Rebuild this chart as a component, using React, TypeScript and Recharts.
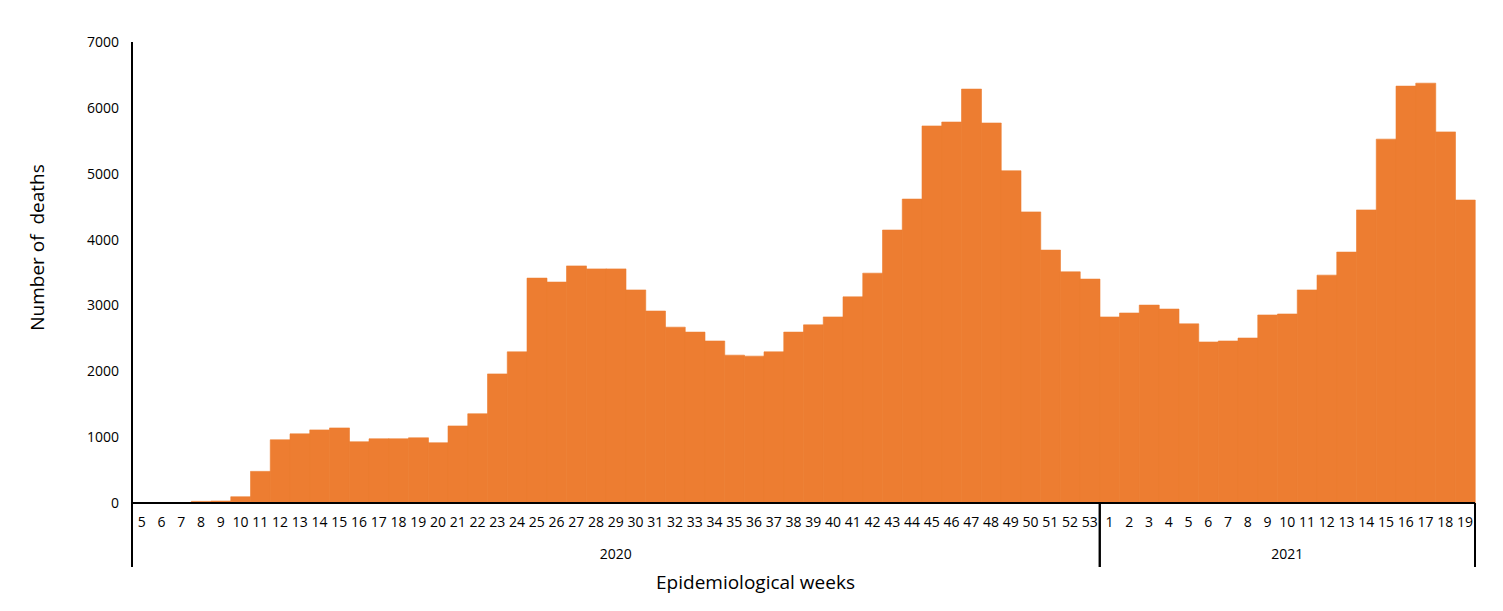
import { BarChart, Bar, XAxis, YAxis } from "recharts";

const weeks2020 = [
  5, 6, 7, 8, 9, 10, 11, 12, 13, 14, 15, 16, 17, 18, 19, 20, 21, 22, 23, 24, 25, 26, 27, 28, 29,
  30, 31, 32, 33, 34, 35, 36, 37, 38, 39, 40, 41, 42, 43, 44, 45, 46, 47, 48, 49, 50, 51, 52, 53,
];
const deaths2020 = [
  0, 0, 0, 25, 30, 95, 480, 960, 1050, 1110, 1140, 930, 975, 975, 990, 915, 1170, 1355, 1960, 2295,
  3415, 3355, 3600, 3555, 3555, 3235, 2915, 2670, 2595, 2460, 2245, 2230, 2295, 2595, 2705, 2825,
  3130, 3490, 4145, 4615, 5725, 5785, 6285, 5770, 5045, 4420, 3840, 3510, 3400,
];
const weeks2021 = [1, 2, 3, 4, 5, 6, 7, 8, 9, 10, 11, 12, 13, 14, 15, 16, 17, 18, 19];
const deaths2021 = [
  2825, 2885, 3005, 2945, 2720, 2445, 2460, 2505, 2855, 2870, 3235, 3460, 3810, 4450, 5525, 6330,
  6375, 5635, 4600,
];
const yTicks = [0, 1000, 2000, 3000, 4000, 5000, 6000, 7000];

const years = [
  { year: "2020", weeks: weeks2020, deaths: deaths2020 },
  { year: "2021", weeks: weeks2021, deaths: deaths2021 },
];

const data = years.flatMap((g) =>
  g.weeks.map((w, i) => ({
    key: `${g.year}-${w}`,
    week: String(w),
    year: g.year,
    pos: i,
    size: g.weeks.length,
    deaths: g.deaths[i],
  }))
);

const FONT = "'Open Sans', 'Noto Sans', sans-serif";

function WeekTick(props: any) {
  const { x, y, payload } = props;
  const row = data[payload.index];
  if (!row) return null;
  const half = payload.offset ?? 9.875;
  const base = y - 8; // axis line position
  const bottom = base + 64;
  return (
    <g>
      <text x={x} y={base + 24} textAnchor="middle" fontSize={14} fontFamily={FONT} fill="#000">
        {row.week}
      </text>
      {row.pos === 0 && (
        <line x1={x - half} x2={x - half} y1={base} y2={bottom} stroke="#000" strokeWidth={2} />
      )}
      {row.pos === row.size - 1 && (
        <line x1={x + half} x2={x + half} y1={base} y2={bottom} stroke="#000" strokeWidth={2} />
      )}
      {row.pos === Math.floor(row.size / 2) && (
        <text
          x={row.size % 2 === 0 ? x - half : x}
          y={base + 56}
          textAnchor="middle"
          fontSize={14}
          fontFamily={FONT}
          fill="#000"
        >
          {row.year}
        </text>
      )}
    </g>
  );
}

// axis titles sit off-centre in the original, so place them by hand
const XTitle = (props: any) => {
  const { viewBox } = props;
  const cx = viewBox.x + viewBox.width / 2 - 48;
  return (
    <text x={cx} y={viewBox.y + 86} textAnchor="middle" fontSize={19} fontFamily={FONT} fill="#000">
      Epidemiological weeks
    </text>
  );
};

const YTitle = (props: any) => {
  const { viewBox } = props;
  const cx = 37;
  const cy = viewBox.y + viewBox.height / 2 - 25;
  return (
    <text
      x={cx}
      y={cy}
      transform={`rotate(-90 ${cx} ${cy})`}
      textAnchor="middle"
      dominantBaseline="central"
      fontSize={19}
      fontFamily={FONT}
      fill="#000"
    >
      {"Number of\u00a0 deaths"}
    </text>
  );
};

export default function App() {
  return (
    <div style={{ position: "absolute", left: 0, top: 0, background: "#fff" }}>
      <BarChart
        width={1503}
        height={611}
        data={data}
        barCategoryGap={0}
        barGap={0}
        margin={{ top: 42, right: 28, left: 0, bottom: 18 }}
      >
        <XAxis
          dataKey="key"
          interval={0}
          tickLine={false}
          axisLine={{ stroke: "#000", strokeWidth: 2 }}
          tick={<WeekTick />}
          height={90}
          label={<XTitle />}
        />
        <YAxis
          width={132}
          domain={[0, 7000]}
          ticks={yTicks}
          interval={0}
          tickLine={false}
          tickMargin={7}
          axisLine={{ stroke: "#000", strokeWidth: 2 }}
          tick={{ fontSize: 14, fontFamily: FONT, fill: "#000" }}
          label={<YTitle />}
        />
        <Bar
          dataKey="deaths"
          fill="#ED7D31"
          stroke="#ED7D31"
          strokeWidth={0.6}
          isAnimationActive={false}
        />
      </BarChart>
    </div>
  );
}
